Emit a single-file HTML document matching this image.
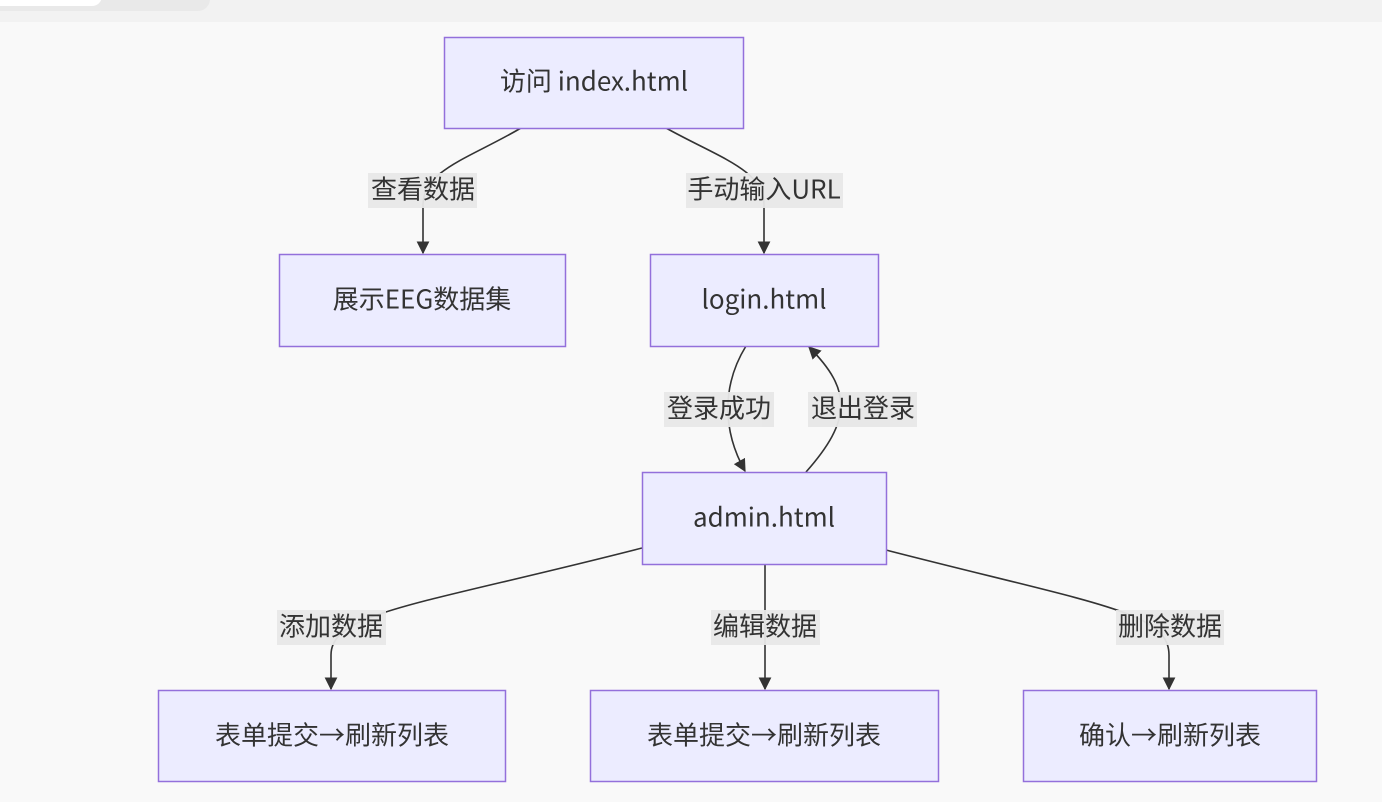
<!DOCTYPE html>
<html><head><meta charset="utf-8"><style>
html,body{margin:0;padding:0;background:#f9f9f9;}
svg{display:block;}
text{font-family:"Noto Sans CJK SC","Liberation Sans",sans-serif;font-size:26px;fill:#333;}
</style></head><body>
<svg width="1382" height="802" viewBox="0 0 1382 802" xmlns="http://www.w3.org/2000/svg">
<defs>
<marker id="a" viewBox="0 0 10 10" refX="9" refY="5" markerWidth="8" markerHeight="8" orient="auto-start-reverse"><path d="M0,0 L10,5 L0,10 z" fill="#333"/></marker>
</defs>
<rect x="0" y="0" width="1382" height="22" fill="#f2f2f2"/>
<rect x="-20" y="-20" width="230" height="31" rx="12" fill="#e9e9e9"/>
<rect x="-20" y="-20" width="122" height="26" rx="10" fill="#ffffff"/>
<g fill="none" stroke="#333" stroke-width="1.6">
<path d="M521,128 C470,158 423,170 423,205 L423,253" marker-end="url(#a)"/>
<path d="M666,128 C720,158 764,170 764,205 L764,253" marker-end="url(#a)"/>
<path d="M746,346 C722,385 722,430 745,471" marker-end="url(#a)"/>
<path d="M806,472 C852,420 852,390 809,347" marker-end="url(#a)"/>
<path d="M642,548 C420,605 331,612 331,655 L331,689" marker-end="url(#a)"/>
<path d="M765,564 L765,689" marker-end="url(#a)"/>
<path d="M886,550 C1100,605 1169,612 1169,655 L1169,689" marker-end="url(#a)"/>
</g>
<g fill="#ececff" stroke="#9370db" stroke-width="1.5">
<rect x="444.5" y="37.5" width="299" height="91"/>
<rect x="279.5" y="254.5" width="286" height="92"/>
<rect x="650.5" y="254.5" width="228" height="92"/>
<rect x="642.5" y="472.5" width="244" height="92"/>
<rect x="158.5" y="690.5" width="347" height="91"/>
<rect x="590.5" y="690.5" width="348" height="91"/>
<rect x="1023.5" y="690.5" width="293" height="91"/>
</g>
<g fill="#e8e8e8" opacity="0.95">
<rect x="368" y="173" width="109" height="35"/>
<rect x="686" y="173" width="157" height="35"/>
<rect x="664" y="392" width="110" height="35"/>
<rect x="808" y="392" width="109" height="35"/>
<rect x="277" y="610" width="109" height="35"/>
<rect x="711" y="610" width="109" height="35"/>
<rect x="1116" y="610" width="108" height="35"/>
</g>
<g text-anchor="middle" dominant-baseline="central">
<text x="594" y="80">访问 index.html</text>
<text x="422" y="298">展示EEG数据集</text>
<text x="764" y="298">login.html</text>
<text x="764" y="516">admin.html</text>
<text x="332" y="734">表单提交→刷新列表</text>
<text x="764" y="734">表单提交→刷新列表</text>
<text x="1170" y="734">确认→刷新列表</text>
<text x="423" y="188">查看数据</text>
<text x="764" y="188">手动输入URL</text>
<text x="719" y="407">登录成功</text>
<text x="863" y="407">退出登录</text>
<text x="331" y="625">添加数据</text>
<text x="765" y="625">编辑数据</text>
<text x="1170" y="625">删除数据</text>
</g>
</svg>
</body></html>
